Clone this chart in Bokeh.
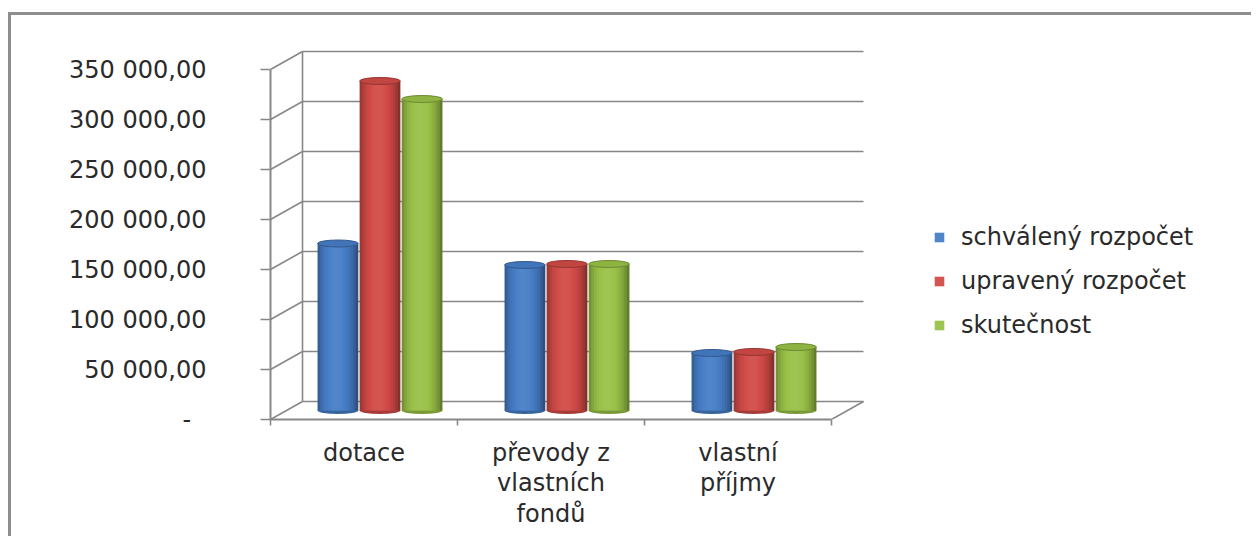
import math
from bokeh.plotting import figure
from bokeh.models import Range1d, FixedTicker, Legend, LegendItem
from bokeh.embed import file_html
from bokeh.resources import INLINE

# ---------------- data ----------------
categories = ["dotace", "převody z\nvlastních\nfondů", "vlastní\npříjmy"]
series_names = ["schválený rozpočet", "upravený rozpočet", "skutečnost"]
schvaleny_rozpocet = [167000, 145500, 57500]
upraveny_rozpocet = [329500, 146500, 58500]
skutecnost = [311500, 146500, 63500]
y_ticks = [0, 50000, 100000, 150000, 200000, 250000, 300000, 350000]
y_tick_labels = ["-\u2007", "50 000,00", "100 000,00", "150 000,00",
                 "200 000,00", "250 000,00", "300 000,00", "350 000,00"]

series_values = [schvaleny_rozpocet, upraveny_rozpocet, skutecnost]
series_rgb = [(70, 125, 198), (208, 74, 70), (152, 192, 70)]

# ---------------- layout ----------------
FW, FH = 977, 377
BL, BR, BT, BB = 259, 4, 27, 117
PX_PER_CAT = 187.0          # pixels per category
VAL_PER_PX = 1000.0         # value units per pixel
DX = 32 / PX_PER_CAT        # depth offset (x, data units)
DY = 18 * VAL_PER_PX        # depth offset (y, data units)
SLOT = 0.225
BAR_W = 0.218
N_STRIPS = 16
CAP_H = 7
FONT = "DejaVu Sans"
FS = "24px"
TXT = "#2a2a2a"
GRID = "#878787"

p = figure(frame_width=FW, frame_height=FH, output_backend="svg", toolbar_location=None,
           x_range=Range1d(0, FW / PX_PER_CAT), y_range=Range1d(0, FH * VAL_PER_PX),
           min_border_left=BL, min_border_right=BR, min_border_top=BT, min_border_bottom=BB,
           styles={"margin-left": "8px", "margin-top": "12px",
                   "border-top": "3px solid #8e8e8e", "border-left": "3px solid #8e8e8e"})
p.outline_line_color = None
p.xgrid.visible = False
p.ygrid.visible = False
p.background_fill_color = "white"
p.border_fill_color = "white"

ncat = len(categories)

# ---------------- walls / floor ----------------
top_tick = max(y_ticks)
p.segment(x0=[DX] * len(y_ticks), y0=[v + DY for v in y_ticks],
          x1=[ncat + DX] * len(y_ticks), y1=[v + DY for v in y_ticks],
          line_color=GRID, line_width=1.6)
p.segment(x0=[0] * len(y_ticks), y0=y_ticks,
          x1=[DX] * len(y_ticks), y1=[v + DY for v in y_ticks],
          line_color=GRID, line_width=1.6)
p.segment(x0=[DX], y0=[DY], x1=[DX], y1=[top_tick + DY], line_color=GRID, line_width=1.6)
p.segment(x0=[ncat], y0=[0], x1=[ncat + DX], y1=[DY], line_color=GRID, line_width=1.6)


def shade(rgb, b):
    out = []
    for c in rgb:
        v = c * b if b <= 1 else c + (255 - c) * (b - 1)
        out.append(max(0, min(255, int(round(v)))))
    return "#%02x%02x%02x" % tuple(out)


def brightness(t):
    return 0.64 + 0.48 * math.sin(math.pi * t) ** 0.6 - 0.12 * t


# ---------------- cylinders ----------------
legend_items = []
for s, (name, vals, rgb) in enumerate(zip(series_names, series_values, series_rgb)):
    xc = [c + 0.5 + (s - 1) * SLOT + DX / 2 for c in range(ncat)]
    base = [DY / 2] * ncat
    tops = [v + DY / 2 for v in vals]
    p.ellipse(x=xc, y=base, width=BAR_W, height=CAP_H, height_units="screen",
              fill_color=shade(rgb, 0.8), line_color=None)
    mid_renderer = None
    sw = BAR_W / N_STRIPS
    for k in range(N_STRIPS):
        t = (k + 0.5) / N_STRIPS
        xs = [x - BAR_W / 2 + (k + 0.5) * sw for x in xc]
        w = sw * (1.0 if k == N_STRIPS - 1 else 1.6)
        xs = [x + (w - sw) / 2 for x in xs]
        r = p.vbar(x=xs, width=w, bottom=base, top=tops,
                   fill_color=shade(rgb, brightness(t)), line_color=None)
        if k == N_STRIPS // 2 - 2:
            mid_renderer = r
    p.ellipse(x=xc, y=tops, width=BAR_W, height=CAP_H, height_units="screen",
              fill_color=shade(rgb, 0.93), line_color=shade(rgb, 0.72), line_width=1)
    legend_items.append(LegendItem(label=name, renderers=[mid_renderer]))

# ---------------- axes ----------------
yax = p.yaxis[0]
yax.ticker = FixedTicker(ticks=y_ticks)
yax.major_label_overrides = {v: lab for v, lab in zip(y_ticks, y_tick_labels)}
yax.bounds = (0, top_tick)
yax.axis_line_color = GRID
yax.axis_line_width = 2
yax.major_tick_line_color = GRID
yax.major_tick_line_width = 1.6
yax.major_tick_in = 0
yax.major_tick_out = 10
yax.minor_tick_line_color = None
yax.major_label_standoff = 54
yax.major_label_text_font = FONT
yax.major_label_text_font_size = FS
yax.major_label_text_color = TXT

xax = p.xaxis[0]
xax.ticker = FixedTicker(ticks=[c + 0.5 for c in range(ncat)],
                         minor_ticks=list(range(ncat + 1)))
xax.major_label_overrides = {c + 0.5: lab for c, lab in enumerate(categories)}
xax.bounds = (0, ncat)
xax.axis_line_color = GRID
xax.axis_line_width = 2
xax.major_tick_line_color = None
xax.major_tick_in = 0
xax.major_tick_out = 0
xax.minor_tick_line_color = GRID
xax.minor_tick_line_width = 1.6
xax.minor_tick_in = 0
xax.minor_tick_out = 6
xax.major_label_standoff = 13
xax.major_label_text_font = FONT
xax.major_label_text_font_size = FS
xax.major_label_text_color = TXT
xax.major_label_text_line_height = 1.1

# ---------------- legend ----------------
legend = Legend(items=legend_items, location=(663, 80), orientation="vertical",
                glyph_width=12, glyph_height=12, label_height=27, spacing=16,
                label_standoff=16, padding=0, margin=0,
                border_line_color=None, background_fill_alpha=0,
                label_text_font=FONT, label_text_font_size=FS,
                label_text_color=TXT)
p.add_layout(legend, "center")

open("out.html", "w").write(file_html(p, INLINE))
